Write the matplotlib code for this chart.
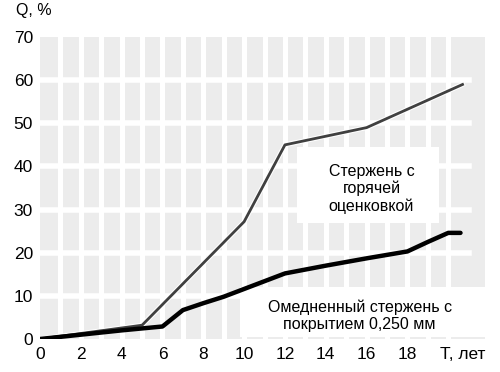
import numpy as np
import matplotlib.pyplot as plt
from matplotlib.patches import Rectangle

plt.rcParams['font.family'] = ['Liberation Sans', 'DejaVu Sans']

# hot-dip galvanized rod
t_zinc = [0, 5, 10, 12, 16, 20.7]
q_zinc = [0, 3.2, 27.2, 45, 49, 59]

# copper-clad rod, 0.250 mm coating
t_cu = [0, 2, 4, 6, 7, 8, 9, 10, 12, 14, 16, 18, 19, 20, 20.6]
q_cu = [0, 1, 2, 2.9, 6.7, 8.3, 9.8, 11.6, 15.2, 17, 18.7, 20.3, 22.5, 24.6, 24.6]

xticks = [0, 2, 4, 6, 8, 10, 12, 14, 16, 18, 20.7]
xlabels = ['0', '2', '4', '6', '8', '10', '12', '14', '16', '18', 'Т, лет']
yticks = [0, 10, 20, 30, 40, 50, 60, 70]

label_zinc = 'Стержень с\nгорячей\nоценковкой'
label_cu = 'Омедненный стержень с\nпокрытием 0,250 мм'

fig = plt.figure(figsize=(5, 3.72), dpi=100, facecolor='w')
ax = fig.add_axes([0.08, 0.0887, 0.89, 0.8118])
ax.set_xlim(0, 21.8)
ax.set_ylim(0, 70)

# striped background
ax.add_patch(Rectangle((0, 0), 21.8, 70, color='#ececec', lw=0, zorder=0))
for x in range(1, 21):
    ax.axvline(x, color='w', lw=3.6, zorder=1)
for y in range(10, 70, 10):
    ax.plot([0, 21], [y, y], color='w', lw=4, zorder=1)

# label boxes
ax.add_patch(Rectangle((12.57, 26.9), 7.0, 17.6, color='w', lw=0, zorder=2))
ax.add_patch(Rectangle((9.78, 0.5), 12.5, 11.5, color='w', lw=0, zorder=2, clip_on=False))

ax.plot(t_zinc, q_zinc, color='w', lw=3.5, zorder=3)
ax.plot(t_zinc, q_zinc, color='#404040', lw=2, zorder=4)
ax.plot(t_cu, q_cu, color='black', lw=3.2, zorder=5, solid_capstyle='round')

ax.text((372 - 40) / 20.44, (339 - 189) / 4.314, label_zinc, ha='center', va='center',
        fontsize=11.5, linespacing=1.15, zorder=6)
ax.text((360 - 40) / 20.44, (339 - 316) / 4.314, label_cu, ha='center', va='center',
        fontsize=11.5, linespacing=1.15, zorder=6)

ax.set_xticks(xticks)
ax.set_xticklabels(xlabels)
ax.set_yticks(yticks)
ax.tick_params(length=0, labelsize=12.5)
ax.tick_params(axis='x', pad=6)
ax.tick_params(axis='y', pad=5)
for s in ax.spines.values():
    s.set_visible(False)

fig.text(0.032, 1 - 11 / 372, 'Q, %', fontsize=11.5, va='center')

plt.savefig('out.png', dpi=100)
